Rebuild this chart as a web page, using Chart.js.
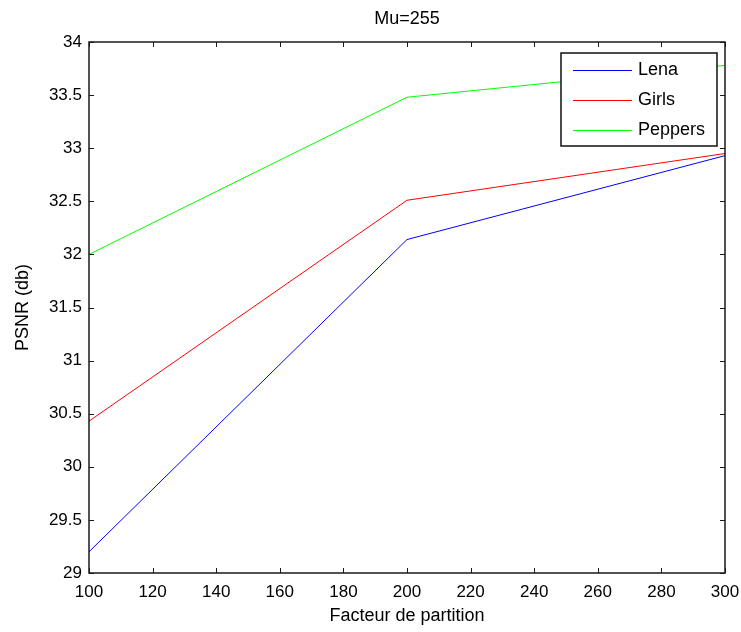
<!DOCTYPE html>
<html>
<head>
<meta charset="utf-8">
<script src="https://cdn.jsdelivr.net/npm/chart.js@4"></script>
<style>
  html, body { margin: 0; padding: 0; background: #fff; }
  canvas { display: block; }
</style>
</head>
<body>
<canvas id="psnrChart" width="741" height="632"></canvas>
<script>
const partitions = [100, 200, 300];
const lena = [29.2, 32.14, 32.93];
const girls = [30.43, 32.51, 32.95];
const peppers = [32.0, 33.48, 33.78];

const xTicks = [100, 120, 140, 160, 180, 200, 220, 240, 260, 280, 300];
const yTicks = [29, 29.5, 30, 30.5, 31, 31.5, 32, 32.5, 33, 33.5, 34];

const seriesNames = ['Lena', 'Girls', 'Peppers'];
const seriesColors = ['#0000ff', '#ff0000', '#00ff00'];
const chartTitle = 'Mu=255';

const FONT = "'Liberation Sans', Arial, sans-serif";

function toPoints(values) {
  return partitions.map((x, i) => ({ x, y: values[i] }));
}

// MATLAB style box with inward ticks on all four sides, title centred on the axes
const boxPlugin = {
  id: 'matlabBox',
  afterDatasetsDraw(chart) {
    const { ctx, chartArea: area, scales } = chart;
    const len = 5;
    ctx.save();
    ctx.strokeStyle = '#1a1a1a';
    ctx.lineWidth = 1;

    ctx.beginPath();
    for (const v of xTicks) {
      const px = Math.round(scales.x.getPixelForValue(v)) + 0.5;
      ctx.moveTo(px, area.bottom);
      ctx.lineTo(px, area.bottom - len);
      ctx.moveTo(px, area.top);
      ctx.lineTo(px, area.top + len);
    }
    for (const v of yTicks) {
      const py = Math.round(scales.y.getPixelForValue(v)) + 0.5;
      ctx.moveTo(area.left, py);
      ctx.lineTo(area.left + len, py);
      ctx.moveTo(area.right, py);
      ctx.lineTo(area.right - len, py);
    }
    ctx.stroke();

    ctx.lineWidth = 1.5;
    ctx.strokeRect(area.left, area.top, area.right - area.left, area.bottom - area.top);

    ctx.fillStyle = '#000';
    ctx.font = `18px ${FONT}`;
    ctx.textAlign = 'center';
    ctx.textBaseline = 'middle';
    ctx.fillText(chartTitle, (area.left + area.right) / 2, 19.5);
    ctx.restore();
  },
};

// legend box drawn inside the plot, top right
const legendPlugin = {
  id: 'insideLegend',
  afterDraw(chart) {
    const { ctx, chartArea: area } = chart;
    const w = 156;
    const h = 93;
    const left = area.right - 8 - w;
    const top = area.top + 11;

    ctx.save();
    ctx.fillStyle = '#ffffff';
    ctx.fillRect(left, top, w, h);
    ctx.strokeStyle = '#111';
    ctx.lineWidth = 1.5;
    ctx.strokeRect(left, top, w, h);

    ctx.font = `18px ${FONT}`;
    ctx.textBaseline = 'middle';
    ctx.textAlign = 'left';
    chart.data.datasets.forEach((ds, i) => {
      const y = top + 17 + i * 30;
      ctx.strokeStyle = ds.borderColor;
      ctx.lineWidth = 1;
      ctx.beginPath();
      ctx.moveTo(left + 12, Math.round(y) + 0.5);
      ctx.lineTo(left + 71, Math.round(y) + 0.5);
      ctx.stroke();
      ctx.fillStyle = '#000';
      ctx.fillText(ds.label, left + 77, y);
    });
    ctx.restore();
  },
};

new Chart(document.getElementById('psnrChart'), {
  type: 'line',
  data: {
    datasets: [
      { label: seriesNames[0], data: toPoints(lena), borderColor: seriesColors[0] },
      { label: seriesNames[1], data: toPoints(girls), borderColor: seriesColors[1] },
      { label: seriesNames[2], data: toPoints(peppers), borderColor: seriesColors[2] },
    ],
  },
  options: {
    responsive: false,
    animation: false,
    layout: { padding: { left: 0, right: 16, top: 42, bottom: 0 } },
    elements: {
      line: { borderWidth: 1, tension: 0, fill: false },
      point: { radius: 0 },
    },
    plugins: {
      legend: { display: false },
      tooltip: { enabled: false },
      title: { display: false },
    },
    scales: {
      x: {
        type: 'linear',
        min: 100,
        max: 300,
        afterBuildTicks(scale) {
          scale.ticks = xTicks.map((value) => ({ value }));
        },
        afterFit(scale) {
          scale.height = 59;
          scale.paddingLeft = 0;
          scale.paddingRight = 0;
        },
        grid: { display: false, drawTicks: false },
        border: { display: false },
        ticks: {
          color: '#000',
          padding: 9,
          maxRotation: 0,
          autoSkip: false,
          font: { family: FONT, size: 17 },
          callback: (v) => String(v),
        },
        title: {
          display: true,
          text: 'Facteur de partition',
          color: '#000',
          font: { family: FONT, size: 18 },
          padding: { top: 0, bottom: 5.2 },
        },
      },
      y: {
        type: 'linear',
        min: 29,
        max: 34,
        afterBuildTicks(scale) {
          scale.ticks = yTicks.map((value) => ({ value }));
        },
        afterFit(scale) {
          scale.width = 89;
          scale.paddingTop = 0;
          scale.paddingBottom = 0;
        },
        grid: { display: false, drawTicks: false },
        border: { display: false },
        ticks: {
          color: '#000',
          padding: 7,
          autoSkip: false,
          font: { family: FONT, size: 17 },
          callback: (v) => String(v),
        },
        title: {
          display: true,
          text: 'PSNR (db)',
          color: '#000',
          font: { family: FONT, size: 18 },
          padding: { top: 12.7, bottom: 0 },
        },
      },
    },
  },
  plugins: [boxPlugin, legendPlugin],
});
</script>
</body>
</html>
